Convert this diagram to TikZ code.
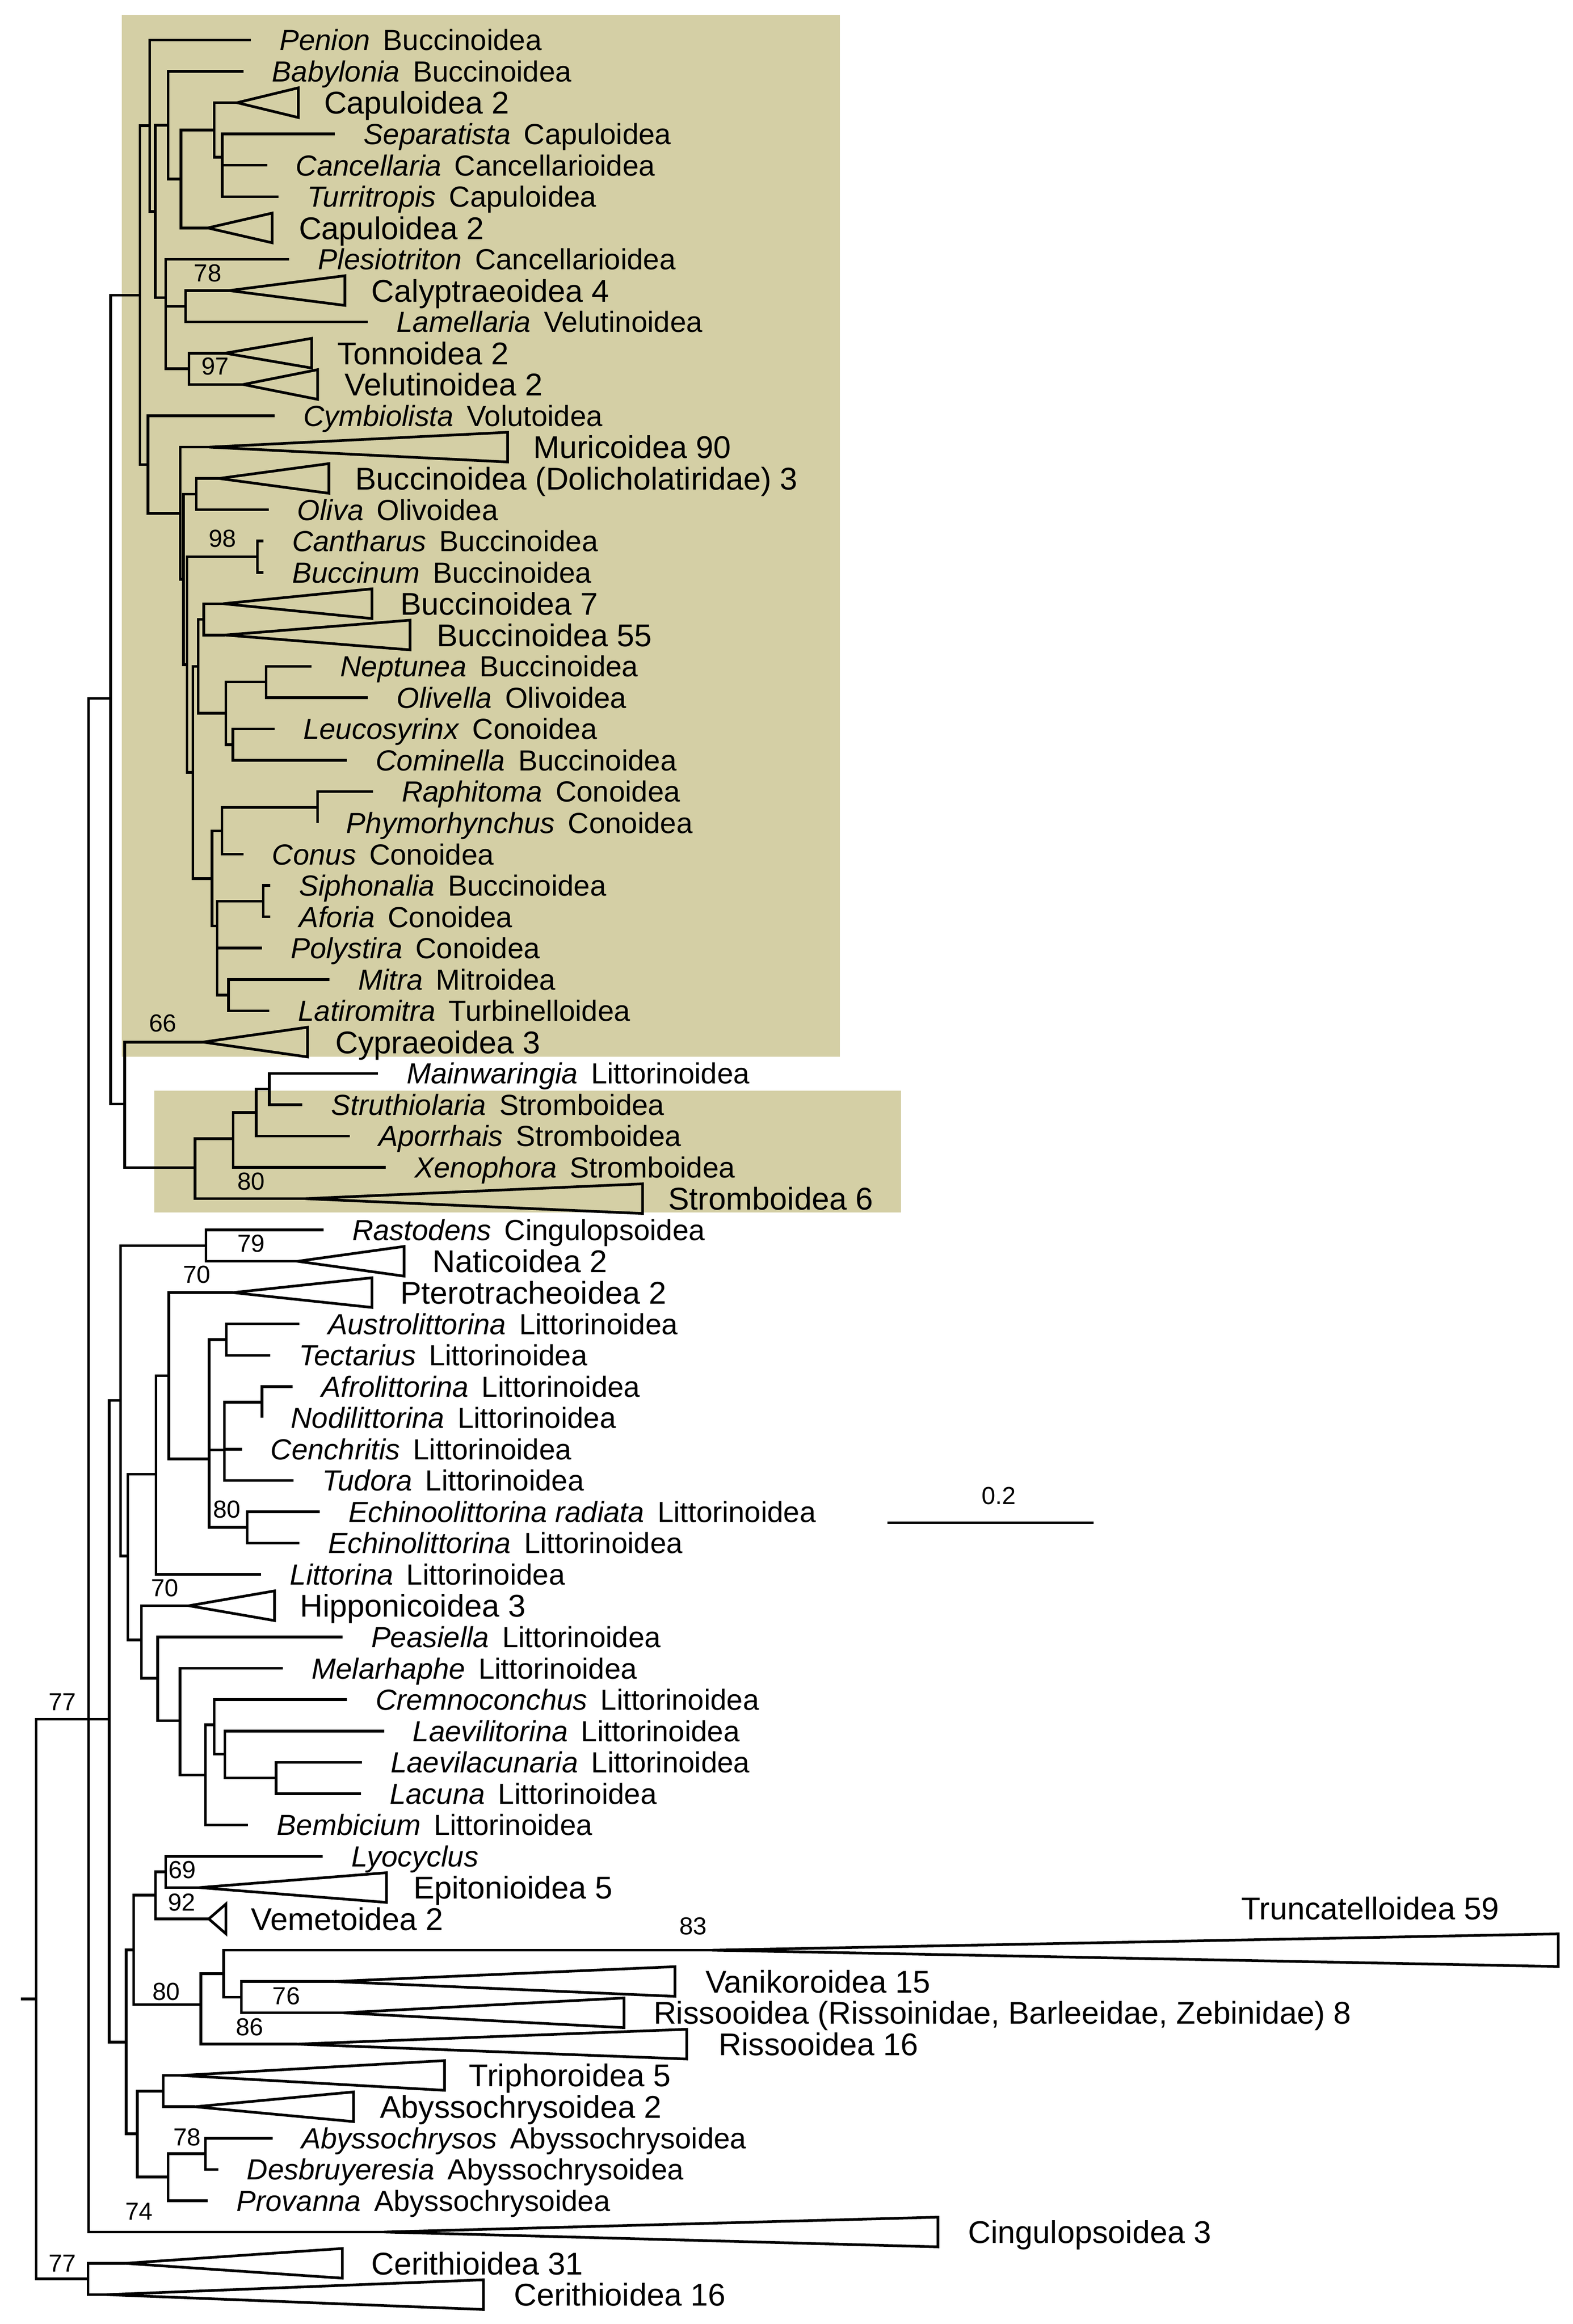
\documentclass[tikz,border=0pt]{standalone}
\usepackage{fontspec}
\setmainfont{Liberation Sans}
\definecolor{boxcol}{RGB}{212,207,165}
\newcommand\lf[5]{\coordinate (#1) at (#2,#3); \node[lab] (#1l) at (#2+19,#3) {\textit{#4}\hspace{0.45em}#5};}
\newcommand\tri[6]{\coordinate (#1) at (#2,#3); \draw[br] (#1) -- (#4,#3-10) -- (#4,#3+10) -- cycle; \node[clab] (#1l) at (#5,#3) {#6};}
\newcommand\inn[3]{\coordinate (#1) at (#2,#3);}
\newcommand\kids[2]{\foreach \c in {#2} {\draw[br] (#1) |- (\c);}}
\newcommand\bs[3]{\node[bsl] at (#1,#2) {#3};}
\begin{document}
\begin{tikzpicture}[x=0.5pt,y=-0.5pt,
 br/.style={line width=0.9pt,line join=miter},
 lab/.style={anchor=west,inner sep=0pt,font=\fontsize{9.8}{11}\selectfont,text height=7pt,text depth=0pt},
 clab/.style={anchor=west,inner sep=0pt,font=\fontsize{10.6}{12}\selectfont,text height=7.6pt,text depth=0pt},
 bsl/.style={inner sep=0pt,font=\fontsize{8.3}{10}\selectfont}]
\useasboundingbox (0,0) rectangle (1059.6,1566);
\fill[boxcol] (82,10) rectangle (566,712);
\fill[boxcol] (104,735) rectangle (607,817);
% ---- leaves
\lf{l1}{169}{27}{Penion}{Buccinoidea}
\lf{l2}{164}{48.1}{Babylonia}{Buccinoidea}
\lf{l4}{225.7}{90.3}{Separatista}{Capuloidea}
\lf{l5}{180}{111.4}{Cancellaria}{Cancellarioidea}
\lf{l6}{187.7}{132.5}{Turritropis}{Capuloidea}
\lf{l8}{195}{174.7}{Plesiotriton}{Cancellarioidea}
\lf{l10}{247.9}{216.9}{Lamellaria}{Velutinoidea}
\lf{l13}{185}{280.2}{Cymbiolista}{Volutoidea}
\lf{l16}{181}{343.5}{Oliva}{Olivoidea}
\lf{l17}{177.5}{364.6}{Cantharus}{Buccinoidea}
\lf{l18}{177.5}{385.7}{Buccinum}{Buccinoidea}
\lf{l21}{210}{449}{Neptunea}{Buccinoidea}
\lf{l22}{247.9}{470.1}{Olivella}{Olivoidea}
\lf{l23}{185}{491.2}{Leucosyrinx}{Conoidea}
\lf{l24}{233.8}{512.3}{Cominella}{Buccinoidea}
\lf{l25}{251.4}{533.4}{Raphitoma}{Conoidea}
\lf{l26}{214}{554.5}{Phymorhynchus}{Conoidea}
\lf{l27}{164}{575.6}{Conus}{Conoidea}
\lf{l28}{182}{596.7}{Siphonalia}{Buccinoidea}
\lf{l29}{182}{617.8}{Aforia}{Conoidea}
\lf{l30}{176.6}{638.9}{Polystira}{Conoidea}
\lf{l31}{222}{660}{Mitra}{Mitroidea}
\lf{l32}{181.5}{681.1}{Latiromitra}{Turbinelloidea}
\lf{l34}{254.6}{723.3}{Mainwaringia}{Littorinoidea}
\lf{l35}{203.7}{744.4}{Struthiolaria}{Stromboidea}
\lf{l36}{235.7}{765.5}{Aporrhais}{Stromboidea}
\lf{l37}{260}{786.6}{Xenophora}{Stromboidea}
\lf{l39}{218}{828.8}{Rastodens}{Cingulopsoidea}
\lf{l42}{201.8}{892.1}{Austrolittorina}{Littorinoidea}
\lf{l43}{182}{913.2}{Tectarius}{Littorinoidea}
\lf{l44}{197.2}{934.3}{Afrolittorina}{Littorinoidea}
\lf{l45}{176.6}{955.4}{Nodilittorina}{Littorinoidea}
\lf{l46}{163}{976.5}{Cenchritis}{Littorinoidea}
\lf{l47}{197.8}{997.6}{Tudora}{Littorinoidea}
\lf{l48}{215.4}{1018.7}{Echinoolittorina radiata}{Littorinoidea}
\lf{l49}{201.8}{1039.8}{Echinolittorina}{Littorinoidea}
\lf{l50}{176}{1060.9}{Littorina}{Littorinoidea}
\lf{l52}{230.7}{1103.1}{Peasiella}{Littorinoidea}
\lf{l53}{190.7}{1124.2}{Melarhaphe}{Littorinoidea}
\lf{l54}{233.8}{1145.3}{Cremnoconchus}{Littorinoidea}
\lf{l55}{258.8}{1166.4}{Laevilitorina}{Littorinoidea}
\lf{l56}{243.8}{1187.5}{Laevilacunaria}{Littorinoidea}
\lf{l57}{243.2}{1208.6}{Lacuna}{Littorinoidea}
\lf{l58}{167.2}{1229.7}{Bembicium}{Littorinoidea}
\lf{l59}{217.3}{1250.8}{Lyocyclus}{}
\lf{l68}{183.8}{1440.7}{Abyssochrysos}{Abyssochrysoidea}
\lf{l69}{147}{1461.8}{Desbruyeresia}{Abyssochrysoidea}
\lf{l70}{140}{1482.9}{Provanna}{Abyssochrysoidea}
% ---- collapsed clades
\tri{t3}{159.8}{69.2}{201}{218}{Capuloidea 2}
\tri{t7}{140}{153.6}{183.4}{201}{Capuloidea 2}
\tri{t9}{154.4}{195.8}{232.4}{250}{Calyptraeoidea 4}
\tri{t11}{151.7}{238}{210}{227}{Tonnoidea 2}
\tri{t12}{163.9}{259.1}{214}{232}{Velutinoidea 2}
\tri{t14}{141}{301.3}{342}{359}{Muricoidea 90}
\tri{t15}{147.6}{322.4}{221.6}{239}{Buccinoidea (Dolicholatiridae) 3}
\tri{t19}{150.4}{406.8}{250.6}{269.5}{Buccinoidea 7}
\tri{t20}{151.7}{427.9}{276.3}{294}{Buccinoidea 55}
\tri{t33}{136.8}{702.2}{207.2}{225.7}{Cypraeoidea 3}
\tri{t38}{205.9}{807.7}{433}{450}{Stromboidea 6}
\tri{t40}{200.5}{849.9}{272.3}{291}{Naticoidea 2}
\tri{t41}{157}{871}{250.6}{269.5}{Pterotracheoidea 2}
\tri{t51}{127.3}{1082}{185}{201.8}{Hipponicoidea 3}
\tri{t60}{134.4}{1271.9}{260.4}{278.2}{Epitonioidea 5}
\tri{t61}{140.7}{1293}{152.2}{168.8}{Vemetoidea 2}
\coordinate (t62) at (480,1314.1);
\draw[br] (t62) -- (1050,1303.1) -- (1050,1325.1) -- cycle;
\node[clab] (t62l) at (836,1286) {Truncatelloidea 59};
\tri{t63}{225}{1335.2}{454.8}{475}{Vanikoroidea 15}
\tri{t64}{231.3}{1356.3}{420.5}{440}{Rissooidea (Rissoinidae, Barleeidae, Zebinidae) 8}
\tri{t65}{200}{1377.4}{462.7}{484}{Rissooidea 16}
\tri{t66}{122}{1398.5}{299.5}{315.7}{Triphoroidea 5}
\tri{t67}{131.3}{1419.6}{238.2}{255.7}{Abyssochrysoidea 2}
\tri{t71}{259}{1504}{632}{652}{Cingulopsoidea 3}
\tri{t72}{84.4}{1525.1}{230.7}{250}{Cerithioidea 31}
\tri{t73}{72}{1546.2}{325.7}{346}{Cerithioidea 16}
% ---- internal nodes
\inn{nG}{149.8}{106}
\inn{nF1}{144.4}{87.6}
\inn{nE}{121.9}{120.6}
\inn{nD}{113.2}{84.4}
\inn{nI}{125}{206.4}
\inn{nJ}{127.3}{248.5}
\inn{nF}{111.6}{200.5}
\inn{nC}{104.6}{142.5}
\inn{nB}{100.8}{84.7}
\inn{nA}{94.3}{198.9}
\inn{nM}{99.7}{313}
\inn{nN}{121.4}{345.9}
\inn{nO}{123.5}{390.4}
\inn{nP}{132.2}{333}
\inn{nQ}{126}{447.9}
\inn{nCB}{173.4}{375.2}
\inn{nR}{130}{520.5}
\inn{nS1}{133.5}{449}
\inn{nB7}{137.3}{417.35}
\inn{nK2}{152.2}{480.6}
\inn{nNO}{179.3}{459.5}
\inn{nLC}{157}{501.8}
\inn{nS2}{142.8}{592}
\inn{nRP2}{149.5}{559.8}
\inn{nRP}{214}{544}
\inn{nT}{146.3}{624}
\inn{nSA}{177.4}{607.25}
\inn{nML}{153.9}{670.55}
\inn{nT0}{74.5}{470.6}
\inn{nS}{84}{744}
\inn{nSt}{131.4}{786.8}
\inn{nX1}{157.1}{767.3}
\inn{nX2}{172.6}{749.7}
\inn{nX3}{181.5}{733.85}
\inn{nU}{59.6}{1158.5}
\inn{nRt}{24.4}{1347}
\coordinate (root) at (14,1347);
\inn{nCe}{59.4}{1535.65}
\inn{nV}{73.5}{1158.5}
\inn{nW}{81.3}{943.6}
\inn{nRN}{138.7}{839.35}
\inn{nY}{86.1}{1048.5}
\inn{nZ}{105.1}{993.4}
\inn{nBB}{113.8}{927}
\inn{nCC}{140.9}{983}
\inn{nAT}{152.5}{902.65}
\inn{nDD}{151.2}{977}
\inn{nAN}{176.6}{944.85}
\inn{nEc}{166.6}{1029.25}
\inn{nAA}{95.3}{1105}
\inn{nEE}{106.3}{1130.8}
\inn{nFF}{121.3}{1159.5}
\inn{nGG}{138.5}{1196}
\inn{nHH}{144.4}{1162.3}
\inn{nII}{151.6}{1182}
\inn{nJJ}{186}{1198.05}
\inn{nX}{85}{1376}
\inn{nKK}{90}{1314}
\inn{nMM}{104.7}{1277}
\inn{nOO}{111.6}{1261.35}
\inn{nNN}{135.4}{1350.7}
\inn{nPP}{150.7}{1330}
\inn{nQQ}{162.6}{1345.75}
\inn{nLL}{92.5}{1437.8}
\inn{nRR}{110}{1409.05}
\inn{nSS}{113.2}{1467}
\inn{nTT}{138.5}{1451.25}
% ---- edges
\draw[br] (root) -- (nRt);
\kids{nRt}{nU,nCe}
\kids{nCe}{t72,t73}
\kids{nU}{nT0,nV,t71}
\kids{nT0}{nA,nS}
\kids{nA}{nB,nM}
\kids{nB}{l1,nC}
\kids{nC}{nD,nF}
\kids{nD}{l2,nE}
\kids{nE}{nF1,t7}
\kids{nF1}{t3,nG}
\kids{nG}{l4,l5,l6}
\kids{nF}{l8,nI,nJ}
\kids{nI}{t9,l10}
\kids{nJ}{t11,t12}
\kids{nM}{l13,nN}
\kids{nN}{t14,nO}
\kids{nO}{nP,nQ}
\kids{nP}{t15,l16}
\kids{nQ}{nCB,nR}
\kids{nCB}{l17,l18}
\kids{nR}{nS1,nS2}
\kids{nS1}{nB7,nK2}
\kids{nB7}{t19,t20}
\kids{nK2}{nNO,nLC}
\kids{nNO}{l21,l22}
\kids{nLC}{l23,l24}
\kids{nS2}{nRP2,nT}
\kids{nRP2}{nRP,l27}
\kids{nRP}{l25,l26}
\kids{nT}{nSA,l30,nML}
\kids{nSA}{l28,l29}
\kids{nML}{l31,l32}
\kids{nS}{t33,nSt}
\kids{nSt}{nX1,t38}
\kids{nX1}{nX2,l37}
\kids{nX2}{nX3,l36}
\kids{nX3}{l34,l35}
\kids{nV}{nW,nX}
\kids{nW}{nRN,nY}
\kids{nRN}{l39,t40}
\kids{nY}{nZ,nAA}
\kids{nZ}{nBB,l50}
\kids{nBB}{t41,nCC}
\kids{nCC}{nAT,nDD,nEc}
\kids{nAT}{l42,l43}
\kids{nDD}{nAN,l46,l47}
\kids{nAN}{l44,l45}
\kids{nEc}{l48,l49}
\kids{nAA}{t51,nEE}
\kids{nEE}{l52,nFF}
\kids{nFF}{l53,nGG}
\kids{nGG}{nHH,l58}
\kids{nHH}{l54,nII}
\kids{nII}{l55,nJJ}
\kids{nJJ}{l56,l57}
\kids{nX}{nKK,nLL}
\kids{nKK}{nMM,nNN}
\kids{nMM}{nOO,t61}
\kids{nOO}{l59,t60}
\kids{nNN}{nPP,t65}
\kids{nPP}{t62,nQQ}
\kids{nQQ}{t63,t64}
\kids{nLL}{nRR,nSS}
\kids{nRR}{t66,t67}
\kids{nSS}{nTT,l70}
\kids{nTT}{l68,l69}
% ---- support values
\bs{140}{184}{78}
\bs{145}{247}{97}
\bs{150}{363}{98}
\bs{109.7}{689.5}{66}
\bs{169.3}{796}{80}
\bs{169.3}{838}{79}
\bs{132.7}{859}{70}
\bs{153}{1017}{80}
\bs{111}{1070}{70}
\bs{122.9}{1260}{69}
\bs{122.5}{1282}{92}
\bs{112}{1342}{80}
\bs{467}{1298}{83}
\bs{192.9}{1345}{76}
\bs{168.2}{1366}{86}
\bs{126}{1440}{78}
\bs{93.8}{1490}{74}
\bs{42}{1147}{77}
\bs{42}{1525}{77}
% ---- scale bar
\coordinate (sb1) at (598,1026);
\coordinate (sb2) at (737,1026);
\draw[br] (sb1) -- (sb2);
\node[bsl] (sbl) at (673,1008) {0.2};
\end{tikzpicture}
\end{document}
